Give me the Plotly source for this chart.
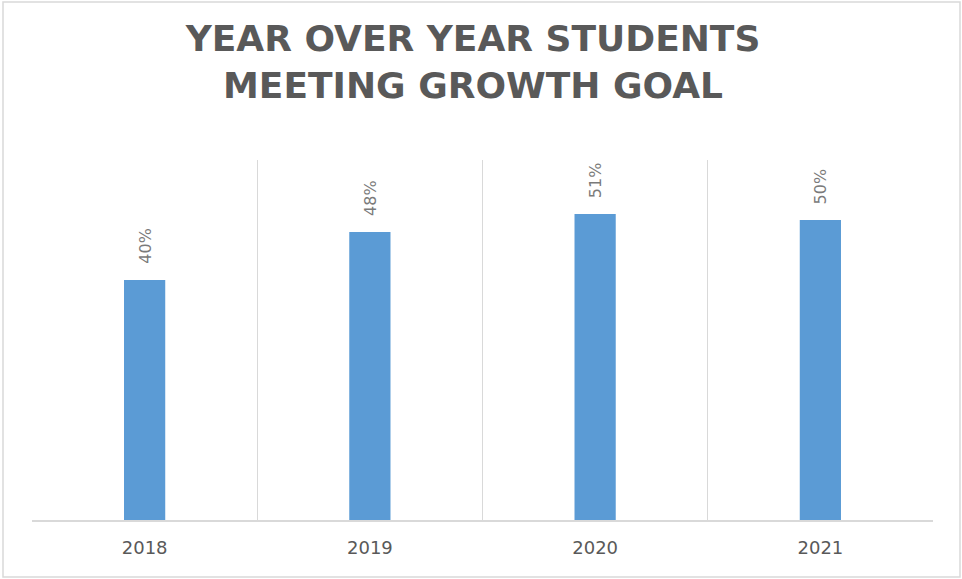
import plotly.graph_objects as go

years = ["2018", "2019", "2020", "2021"]
values = [0.40, 0.48, 0.51, 0.50]
labels = ["40%", "48%", "51%", "50%"]
title_lines = ["YEAR OVER YEAR STUDENTS", "MEETING GROWTH GOAL"]

W, H = 962, 579
L, R, T, B = 32, 29, 160, 59
pw, ph = W - L - R, H - T - B

fig = go.Figure()
fig.add_trace(go.Bar(
    x=years, y=values, width=0.183,
    marker=dict(color="#5B9BD5", line=dict(width=0)),
    hoverinfo="skip",
))

for i, (v, lab) in enumerate(zip(values, labels)):
    fig.add_annotation(
        x=i, y=v, xref="x", yref="y", text=lab, showarrow=False,
        textangle=-90, yanchor="bottom", xanchor="center", yshift=14,
        font=dict(family="DejaVu Sans", size=16, color="#7a7a7a"),
    )

# outer chart border
def px_x(p):
    return (p - L) / pw

def px_y(p):
    return (H - B - p) / ph

fig.add_shape(type="rect", xref="paper", yref="paper",
              x0=px_x(3), x1=px_x(960), y0=px_y(577), y1=px_y(2),
              line=dict(color="#d9d9d9", width=1.5), fillcolor="rgba(0,0,0,0)")

fig.update_layout(
    width=W, height=H,
    margin=dict(l=L, r=R, t=T, b=B),
    paper_bgcolor="white", plot_bgcolor="white",
    showlegend=False,
    title=dict(
        text="<br>".join(title_lines),
        x=473 / W, xanchor="center", xref="container",
        y=1 - 51 / H, yanchor="top", yref="container",
        font=dict(family="DejaVu Sans", size=36, color="#595959", weight="bold"),
    ),
    xaxis=dict(
        type="category", range=[-0.5, 3.5], tickson="boundaries",
        showgrid=True, gridcolor="#d9d9d9", gridwidth=1.3,
        showline=True, linecolor="#d9d9d9", linewidth=1.5,
        ticks="", ticklen=0, ticklabelstandoff=11,
        tickfont=dict(family="DejaVu Sans", size=18, color="#595959"),
        fixedrange=True,
    ),
    yaxis=dict(
        range=[0, 0.6], showgrid=False, showticklabels=False,
        zeroline=False, showline=False, ticks="", fixedrange=True,
    ),
)

fig.write_html("out.html", config={"displayModeBar": False})
